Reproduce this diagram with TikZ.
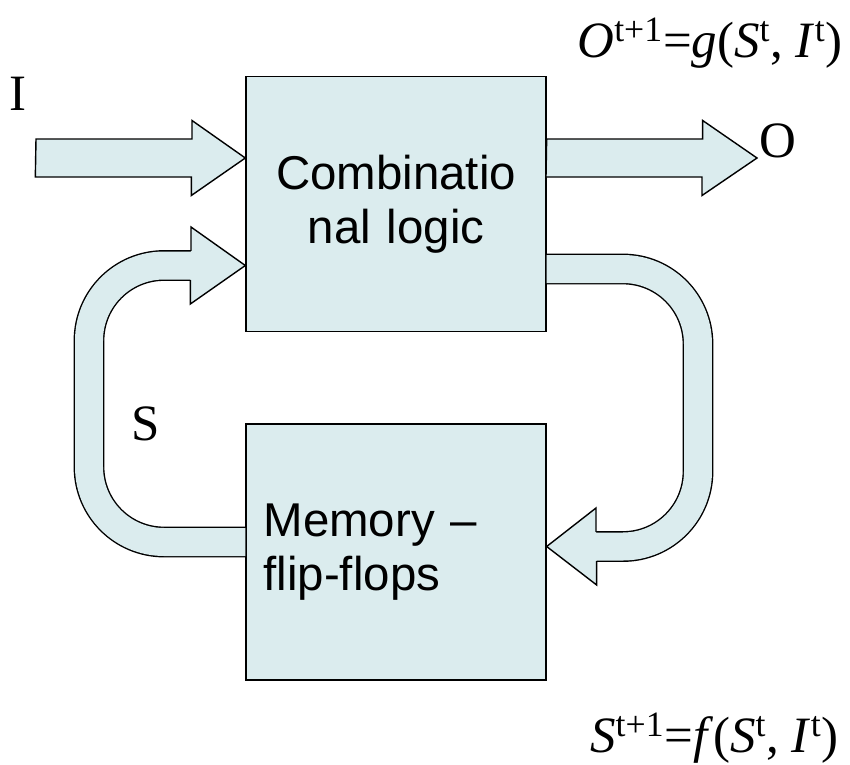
\documentclass[tikz,border=0pt]{standalone}
\usepackage{fontspec}
\setmainfont{Liberation Serif}
\setsansfont{Liberation Sans}
\usetikzlibrary{positioning}
\definecolor{boxfill}{RGB}{219,236,238}
\tikzstyle{block} = [rectangle, minimum width=6cm, minimum height=5.1cm, text width=5.3cm, inner xsep=0.35cm, draw=black, line width=0.8pt, fill=boxfill, font=\sffamily\fontsize{27}{30.5}\selectfont]
\tikzstyle{fatarrow} = [draw=black, fill=boxfill, line width=0.8pt, line join=miter]
\tikzstyle{backline} = [line width=0.8pt, double=boxfill, double distance=0.56cm, rounded corners=1.5cm]
\tikzstyle{lbl} = [font=\fontsize{29}{34}\selectfont, inner sep=0pt]

\begin{document}
\begin{tikzpicture}[x=0.02cm, y=-0.02cm, node distance=1.82cm]
        \useasboundingbox (0,0) rectangle (850,765);

        \node[block, align=center]                              (comb) at (396,204) {Combinatio\\nal logic};
        \node[block, align=left, below=of comb, minimum height=5.12cm] (mem)  {Memory –\\flip-flops};

        \coordinate (in)   at (36,158);
        \coordinate (out)  at (757,158);
        \coordinate (rtop) at (698,269);
        \coordinate (rbot) at (698,546.5);
        \coordinate (ltop) at (89,265.5);
        \coordinate (lbot) at (89,542);

        % straight arrows
        \draw[fatarrow] (in) ++(0,-19) -- ++(156,0) -- ++(0,-18.5) -- (comb.west |- in) -- ++(-54,37.5) -- ++(0,-18.5) -- ++(-156,0) -- cycle;
        \draw[fatarrow] (comb.east |- out) ++(0,-19) -- ++(156,0) -- ++(0,-18.5) -- (out) -- ++(-55,37.5) -- ++(0,-18.5) -- ++(-156,0) -- cycle;

        % feedback loops
        \draw[backline] (comb.east |- rtop) -- (rtop) -- (rbot) -- ++(-104,0);
        \draw[fatarrow] (rbot) ++(-102,-14.7) -- ++(0,-23.8) -- (mem.east |- rbot) -- ++(50,38.5) -- ++(0,-23.8);
        \draw[backline] (mem.west |- lbot) -- (lbot) -- (ltop) -- ++(104,0);
        \draw[fatarrow] (ltop) ++(102,-14.7) -- ++(0,-23.8) -- (comb.west |- ltop) -- ++(-55,38.5) -- ++(0,-23.8);

        \node[lbl, anchor=base]      (ilbl) at (18,110)  {I};
        \node[lbl, anchor=base]      (olbl) at (778,157) {O};
        \node[lbl, anchor=base]      (slbl) at (146,440) {S};
        \node[lbl, anchor=base east] (geq)  at (843,57)  {\textit{O}\textsuperscript{t+1}=\textit{g}(\textit{S}\textsuperscript{t}, \textit{I}\textsuperscript{t})};
        \node[lbl, anchor=base east] (feq)  at (839,752) {\textit{S}\textsuperscript{t+1}=\textit{f}(\textit{S}\textsuperscript{t}, \textit{I}\textsuperscript{t})};
    \end{tikzpicture}
\end{document}
